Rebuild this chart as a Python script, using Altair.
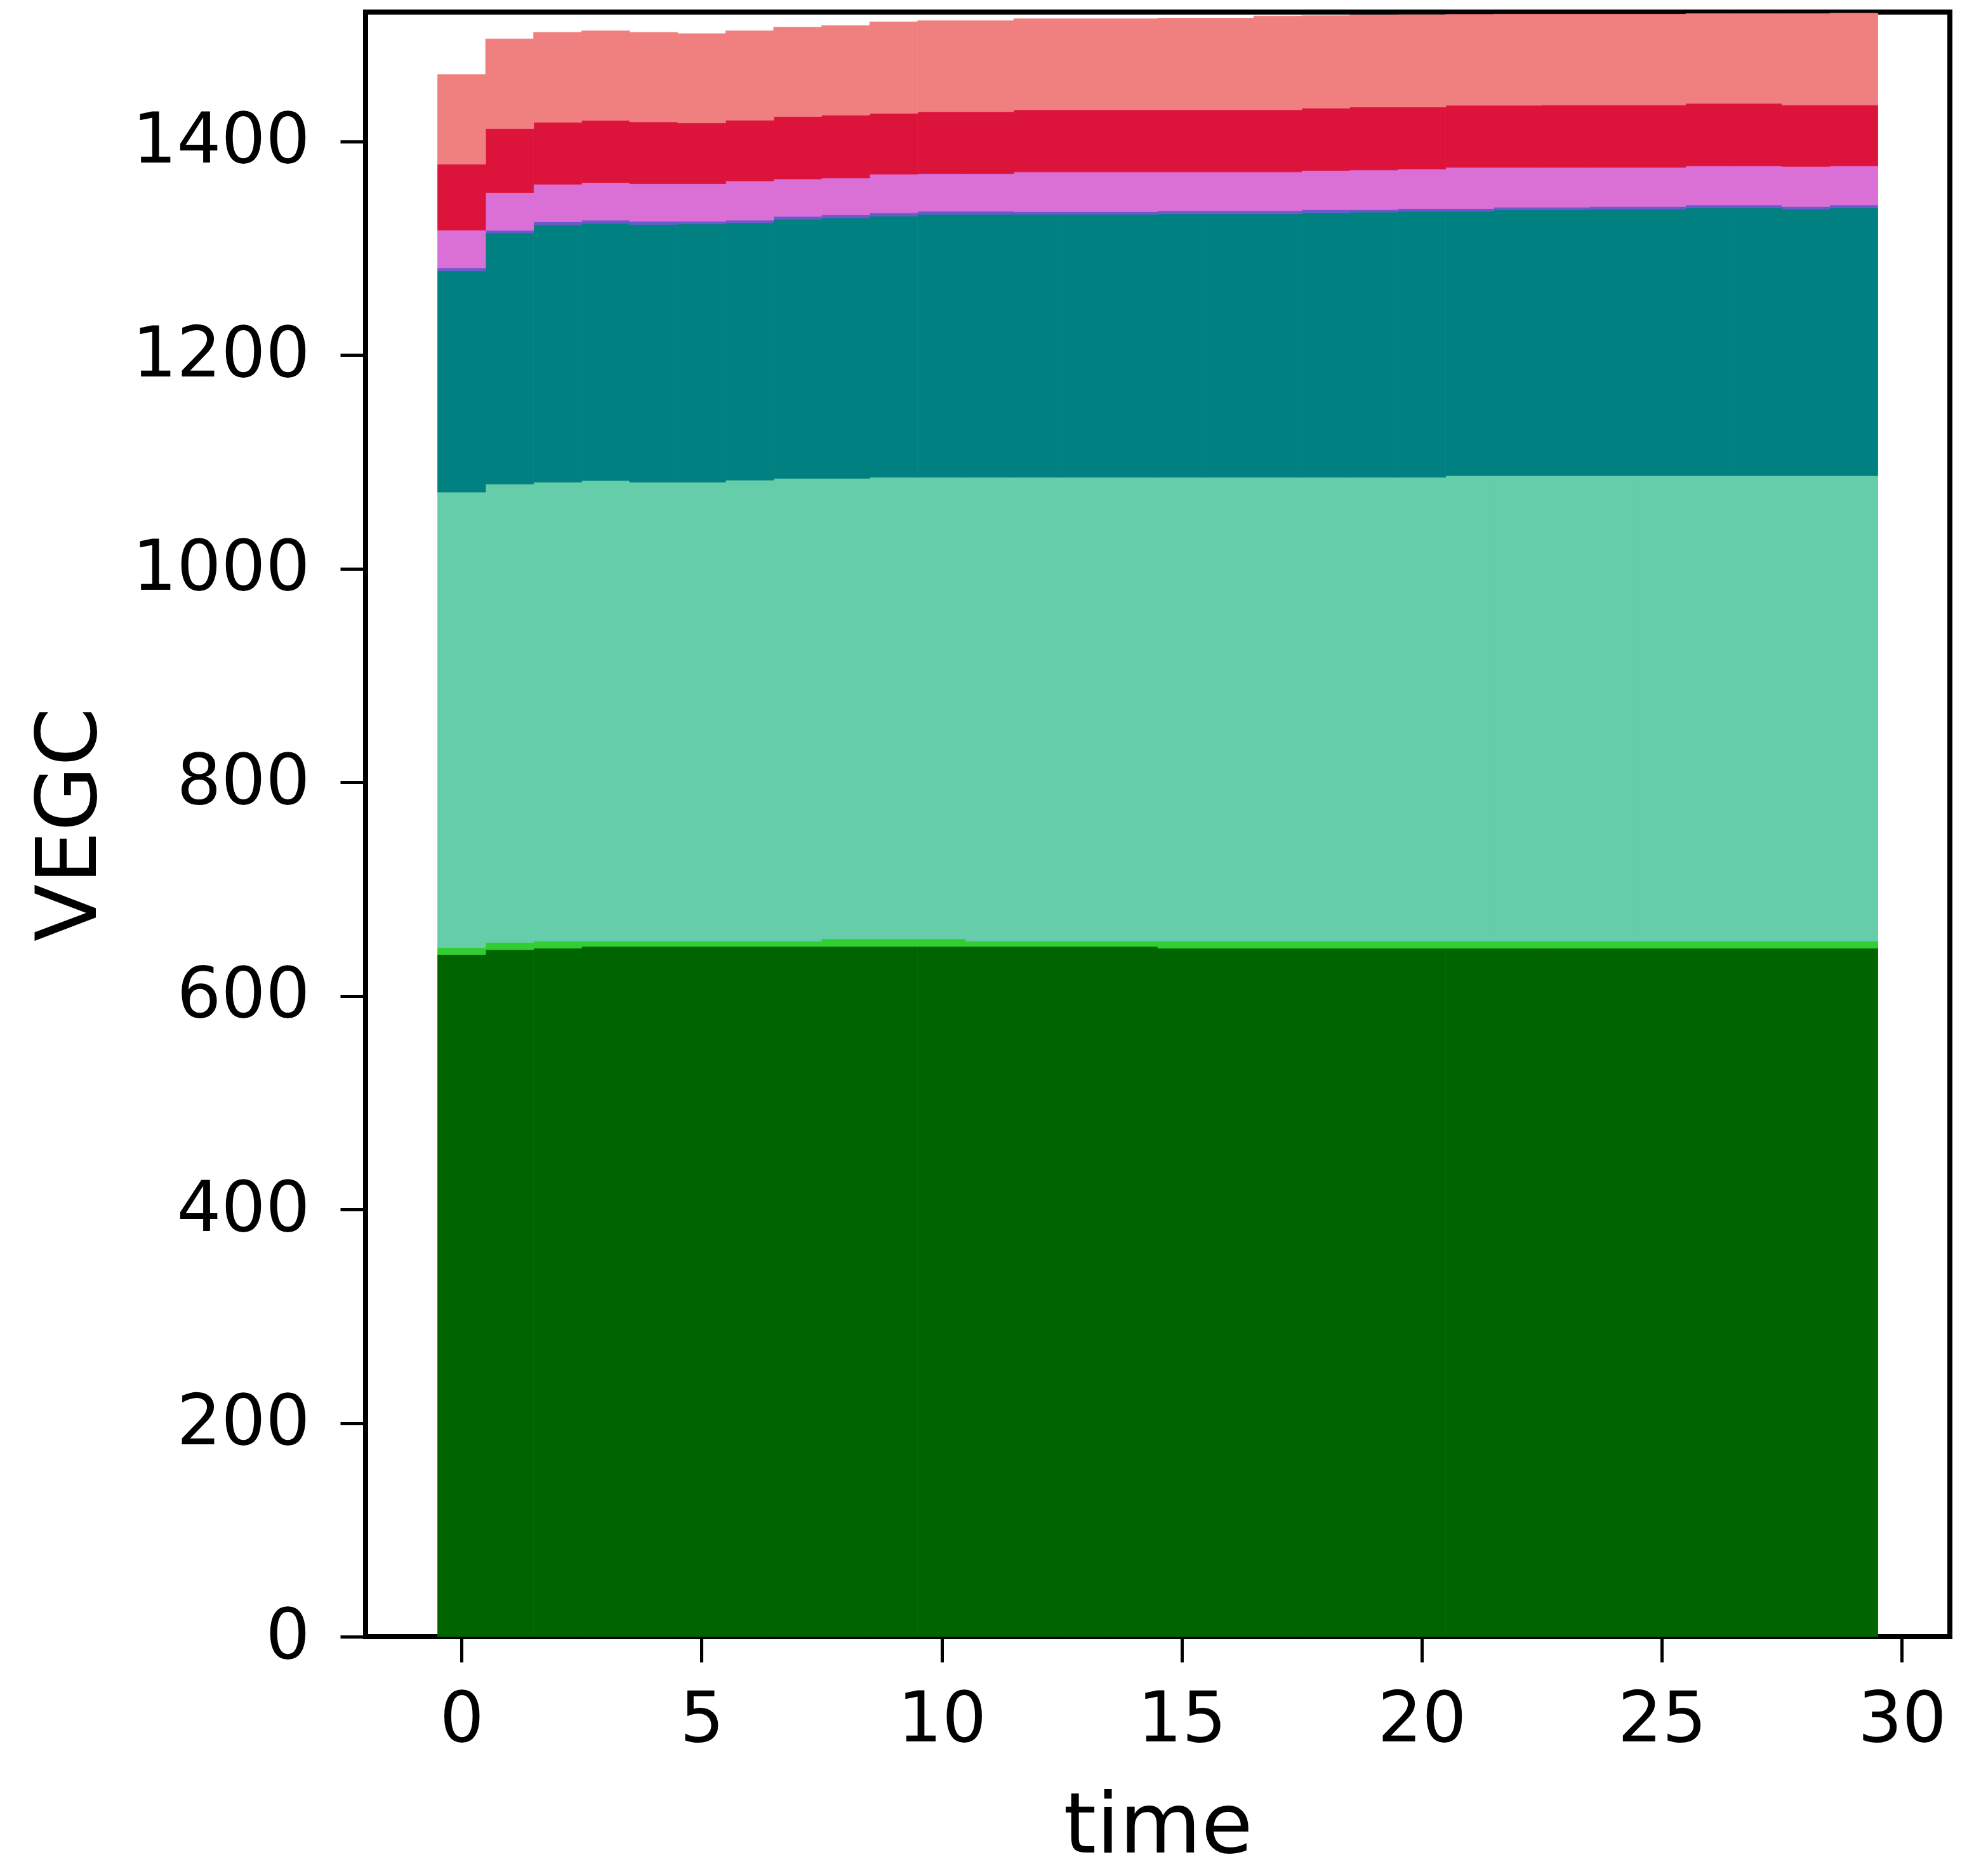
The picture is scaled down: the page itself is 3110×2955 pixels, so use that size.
import altair as alt
import pandas as pd

time = list(range(30))

layers = ["darkgreen", "limegreen", "mediumaquamarine", "teal",
          "slateblue", "orchid", "crimson", "lightcoral"]
colors = ["#006400", "#32CD32", "#66CDAA", "#008080",
          "#6A5ACD", "#DA70D6", "#DC143C", "#F08080"]

darkgreen = [638.7, 643.2, 644.6, 646.2, 646.2, 646.2, 646.2, 646.2, 646.2, 646.2,
             646.2, 646.2, 646.2, 646.2, 646.2, 644.6, 644.6, 644.6, 644.6, 644.6,
             644.6, 644.6, 644.6, 644.6, 644.6, 644.6, 644.6, 644.6, 644.6, 644.6]
limegreen = [6.5, 6.8, 6.6, 5.0, 5.0, 5.0, 5.0, 5.0, 7.0, 7.0,
             7.0, 5.0, 5.0, 5.0, 5.0, 6.6, 6.6, 6.6, 6.6, 6.6,
             6.6, 6.6, 6.6, 6.6, 6.6, 6.6, 6.6, 6.6, 6.6, 6.6]
mediumaquamarine = [426.4, 429.1, 429.7, 431.2, 429.7, 429.7, 431.6, 433.2, 431.2, 432.2,
                    432.2, 434.2, 434.2, 434.2, 434.2, 434.2, 434.2, 434.2, 434.2, 434.2,
                    434.2, 435.8, 435.8, 435.8, 435.8, 435.8, 435.8, 435.8, 435.8, 435.8]
teal = [207.0, 235.1, 240.9, 240.7, 241.3, 241.7, 240.9, 242.7, 243.7, 244.7,
        246.3, 246.3, 246.3, 246.3, 246.3, 246.7, 246.7, 246.7, 247.7, 248.3,
        249.1, 247.5, 249.0, 249.0, 249.4, 249.4, 250.6, 250.6, 249.4, 250.6]
slateblue = [2.9, 2.4, 2.8, 3.0, 3.0, 2.6, 2.4, 2.6, 3.0, 3.0,
             2.8, 2.8, 2.4, 2.4, 2.4, 2.9, 2.9, 2.9, 2.9, 2.3,
             2.5, 2.5, 2.4, 2.4, 2.6, 2.6, 2.8, 2.8, 2.6, 2.8]
orchid = [35.3, 35.3, 35.2, 35.3, 35.0, 35.0, 36.8, 35.0, 34.6, 36.2,
          35.2, 35.2, 37.2, 37.2, 37.2, 36.3, 36.3, 36.3, 36.7, 37.1,
          37.1, 38.7, 37.3, 37.3, 36.7, 36.7, 36.6, 36.6, 37.4, 36.6]
crimson = [61.8, 60.0, 58.0, 58.2, 58.0, 57.0, 56.9, 58.5, 58.9, 56.9,
           58.0, 58.0, 58.2, 58.2, 58.2, 58.2, 58.2, 58.2, 58.4, 59.0,
           58.0, 58.0, 58.0, 58.4, 58.4, 58.4, 58.5, 58.5, 57.7, 57.1]
lightcoral = [83.8, 84.0, 84.2, 83.8, 83.8, 83.6, 83.6, 83.6, 83.8, 85.6,
              85.2, 85.2, 85.2, 85.2, 85.2, 85.8, 85.8, 87.8, 86.5, 86.1,
              86.4, 85.1, 85.3, 84.9, 84.9, 84.9, 84.0, 84.0, 85.4, 85.9]

series = [darkgreen, limegreen, mediumaquamarine, teal,
          slateblue, orchid, crimson, lightcoral]

rows = []
for li, (name, vals) in enumerate(zip(layers, series)):
    for t, v in zip(time, vals):
        rows.append({"time": t, "layer": name, "order": li, "value": v})
df = pd.DataFrame(rows)

x_ticks = [0, 5, 10, 15, 20, 25, 30]
y_ticks = [0, 200, 400, 600, 800, 1000, 1200, 1400]

FONT = "DejaVu Sans"

color_scale = alt.Scale(domain=layers, range=colors)

chart = alt.Chart(df).transform_stack(
    stack="value", groupby=["time"], sort=[alt.SortField("order", order="ascending")],
    as_=["y0", "y1"]
).transform_calculate(
    x0="datum.time - 0.5", x1="datum.time + 0.5"
).mark_bar(strokeWidth=0.8).encode(
    x=alt.X("x0:Q", scale=alt.Scale(domain=[-2, 31], nice=False, zero=False),
            axis=alt.Axis(values=x_ticks, title="time", format="d",
                          titleY=339, titleBaseline="alphabetic",
                          labelPadding=37)),
    x2="x1:Q",
    y=alt.Y("y0:Q", scale=alt.Scale(domain=[0, 1521], nice=False),
            axis=alt.Axis(values=y_ticks, title="VEGC", format="d",
                          titleX=-426, titleBaseline="alphabetic",
                          labelPadding=48)),
    y2="y1:Q",
    color=alt.Color("layer:N", scale=color_scale, legend=None),
    stroke=alt.Stroke("layer:N", scale=color_scale, legend=None),
    order=alt.Order("order:Q"),
).properties(
    width=2496, height=2559,
    autosize=alt.AutoSizeParams(type="none"),
    padding={"left": 568, "top": 11, "right": 20, "bottom": 375},
).configure_view(
    stroke="black", strokeWidth=8
).configure_axis(
    domain=False, grid=False,
    tickSize=40, tickWidth=5, tickColor="black",
    labelFont=FONT, labelFontSize=110, labelColor="black", labelLimit=0,
    titleFont=FONT, titleFontSize=132, titleColor="black", titleFontWeight="normal",
    titleLimit=0,
)

chart.save("out.html", embed_options={"renderer": "svg", "actions": False})
